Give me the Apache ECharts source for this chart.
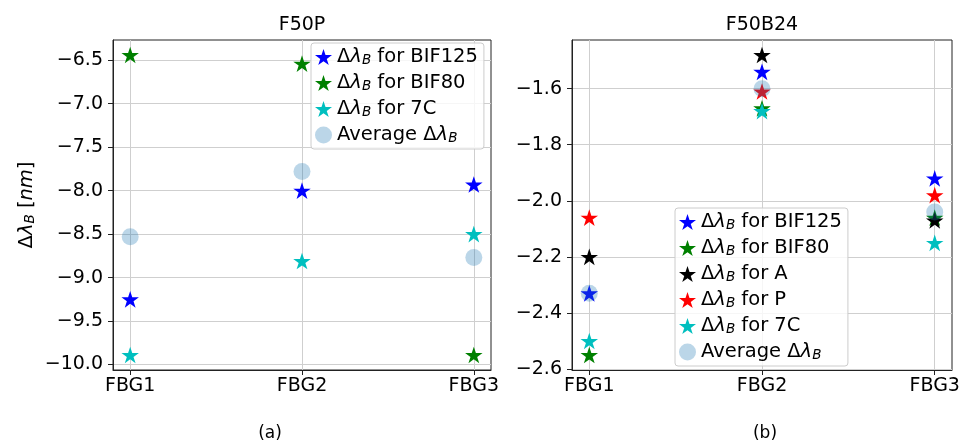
<!DOCTYPE html>
<html>
<head>
<meta charset="utf-8">
<script src="https://cdn.jsdelivr.net/npm/echarts@6/dist/echarts.min.js"></script>
<style>html,body{margin:0;padding:0;background:#fff;}#c{width:966px;height:444px;}</style>
</head>
<body>
<div id="c"></div>
<script>
// ---- data ----
const categories = ['FBG1', 'FBG2', 'FBG3'];
// Panel (a) F50P
const p_BIF125 = [-9.25, -8.00, -7.93];
const p_BIF80  = [-6.44, -6.54, -9.89];
const p_7C     = [-9.89, -8.81, -8.50];
const p_avg    = [-8.53, -7.78, -8.77];
// Panel (b) F50B24
const b_BIF125 = [-2.33, -1.54, -1.92];
const b_BIF80  = [-2.55, -1.67, -2.06];
const b_A      = [-2.20, -1.48, -2.07];
const b_P      = [-2.06, -1.61, -1.98];
const b_7C     = [-2.50, -1.68, -2.15];
const b_avg    = [-2.33, -1.60, -2.04];
// ticks
const xTicks  = [1, 2, 3];
const yTicksP = [-10.0, -9.5, -9.0, -8.5, -8.0, -7.5, -7.0, -6.5];
const yTicksB = [-2.6, -2.4, -2.2, -2.0, -1.8, -1.6];
const xRange  = [0.9, 3.1];
const yRangeP = [-10.063, -6.268];
const yRangeB = [-2.6035, -1.4265];

const FONT = 'DejaVu Sans';
const STAR = 'path://M100,0L122.45,69.1L195.11,69.1L136.33,111.8L158.78,180.9L100,138.2L41.22,180.9L63.67,111.8L4.89,69.1L77.55,69.1Z';
const colors = { BIF125: '#0000ff', BIF80: '#008000', A: '#000000', P: '#ff0000', '7C': '#00bfbf' };
const avgColor = 'rgba(31,119,180,0.3)';

const FS = 19.5;
const rich = {
  d: { fontFamily: FONT, fontSize: FS, lineHeight: 20, color: '#000' },
  l: { fontFamily: FONT, fontSize: FS, lineHeight: 20, fontStyle: 'italic', color: '#000' },
  s: { fontFamily: FONT, fontSize: 13.5, lineHeight: 8, fontStyle: 'italic', verticalAlign: 'bottom', color: '#000' },
  t: { fontFamily: FONT, fontSize: FS, lineHeight: 20, color: '#000' }
};

const toPts = arr => arr.map((v, i) => [i + 1, v]);
const fmt = v => (Math.round(v * 10) / 10).toFixed(1).replace('-', '\u2212');

const labelMap = {};
function starSeries(key, label, colorKey, vals, gi) {
  labelMap[key] = label;
  return {
    name: key, type: 'scatter', xAxisIndex: gi, yAxisIndex: gi,
    symbol: STAR, symbolSize: 17.5, symbolKeepAspect: true,
    itemStyle: { color: colors[colorKey], opacity: 1 },
    data: toPts(vals)
  };
}
function avgSeries(key, vals, gi) {
  labelMap[key] = null;
  return {
    name: key, type: 'scatter', xAxisIndex: gi, yAxisIndex: gi,
    symbol: 'circle', symbolSize: 17,
    itemStyle: { color: avgColor, opacity: 1 },
    data: toPts(vals)
  };
}
const legendFmt = name => labelMap[name] === null
  ? '{t|Average \u0394}{l|\u03bb}{s|B}'
  : '{d|\u0394}{l|\u03bb}{s|B}{t| for ' + labelMap[name] + '}';

const series = [
  starSeries('aBIF125', 'BIF125', 'BIF125', p_BIF125, 0),
  starSeries('aBIF80', 'BIF80', 'BIF80', p_BIF80, 0),
  starSeries('a7C', '7C', '7C', p_7C, 0),
  avgSeries('aAvg', p_avg, 0),
  starSeries('bBIF125', 'BIF125', 'BIF125', b_BIF125, 1),
  starSeries('bBIF80', 'BIF80', 'BIF80', b_BIF80, 1),
  starSeries('bA', 'A', 'A', b_A, 1),
  starSeries('bP', 'P', 'P', b_P, 1),
  starSeries('b7C', '7C', '7C', b_7C, 1),
  avgSeries('bAvg', b_avg, 1)
];

const lineCol = '#222';
const gridCol = '#cfcfcf';
function xAxis(gi) {
  return {
    type: 'value', gridIndex: gi, min: xRange[0], max: xRange[1],
    axisLine: { show: true, lineStyle: { color: lineCol } },
    axisTick: { show: true, customValues: xTicks, length: 5, lineStyle: { color: lineCol } },
    axisLabel: { customValues: xTicks, formatter: v => categories[Math.round(v) - 1] || '',
      fontFamily: FONT, fontSize: 19, color: '#000', margin: 7 },
    splitLine: { show: true, lineStyle: { color: gridCol } }
  };
}
function yAxis(gi, range, ticks, extra) {
  return Object.assign({
    type: 'value', gridIndex: gi, min: range[0], max: range[1],
    axisLine: { show: true, lineStyle: { color: lineCol } },
    axisTick: { show: true, customValues: ticks, length: 5, lineStyle: { color: lineCol } },
    axisLabel: { customValues: ticks, formatter: fmt, fontFamily: FONT, fontSize: 19, color: '#000', margin: 10 },
    splitLine: { show: true, lineStyle: { color: gridCol } }
  }, extra || {});
}

const legendCommon = {
  orient: 'vertical', itemWidth: 17, itemHeight: 17, itemGap: 6,
  padding: [4, 6, 4, 4], backgroundColor: 'rgba(255,255,255,0.8)',
  borderColor: '#cccccc', borderWidth: 1, borderRadius: 3,
  formatter: legendFmt, textStyle: { rich: rich }
};

const titleStyle = { fontFamily: FONT, fontSize: 19, fontWeight: 'normal', color: '#000' };
const option = {
  animation: false,
  backgroundColor: '#fff',
  title: [
    { text: 'F50P', left: 302, top: 16, textAlign: 'center', padding: 0, textStyle: titleStyle },
    { text: 'F50B24', left: 762, top: 16, textAlign: 'center', padding: 0, textStyle: titleStyle },
    { text: '(a)', left: 270, top: 425, textAlign: 'center', padding: 0, textStyle: Object.assign({}, titleStyle, { fontSize: 17 }) },
    { text: '(b)', left: 765, top: 425, textAlign: 'center', padding: 0, textStyle: Object.assign({}, titleStyle, { fontSize: 17 }) }
  ],
  grid: [
    { left: 113, top: 40, width: 378, height: 330, show: true, borderColor: lineCol, borderWidth: 1 },
    { left: 572, top: 40, width: 380, height: 330, show: true, borderColor: lineCol, borderWidth: 1 }
  ],
  xAxis: [xAxis(0), xAxis(1)],
  yAxis: [
    yAxis(0, yRangeP, yTicksP, {
      name: '{d|\u0394}{l|\u03bb}{s|B}{t| [}{l|nm}{t|]}', nameLocation: 'middle', nameGap: 76,
      nameTextStyle: { rich: rich }
    }),
    yAxis(1, yRangeB, yTicksB)
  ],
  legend: [
    Object.assign({}, legendCommon, { left: 311, top: 43, data: ['aBIF125', 'aBIF80', 'a7C', 'aAvg'] }),
    Object.assign({}, legendCommon, { left: 675, top: 208, data: ['bBIF125', 'bBIF80', 'bA', 'bP', 'b7C', 'bAvg'] })
  ],
  series: series
};
const chart = echarts.init(document.getElementById('c'), null, { renderer: 'canvas' });
chart.setOption(option);
</script>
</body>
</html>
